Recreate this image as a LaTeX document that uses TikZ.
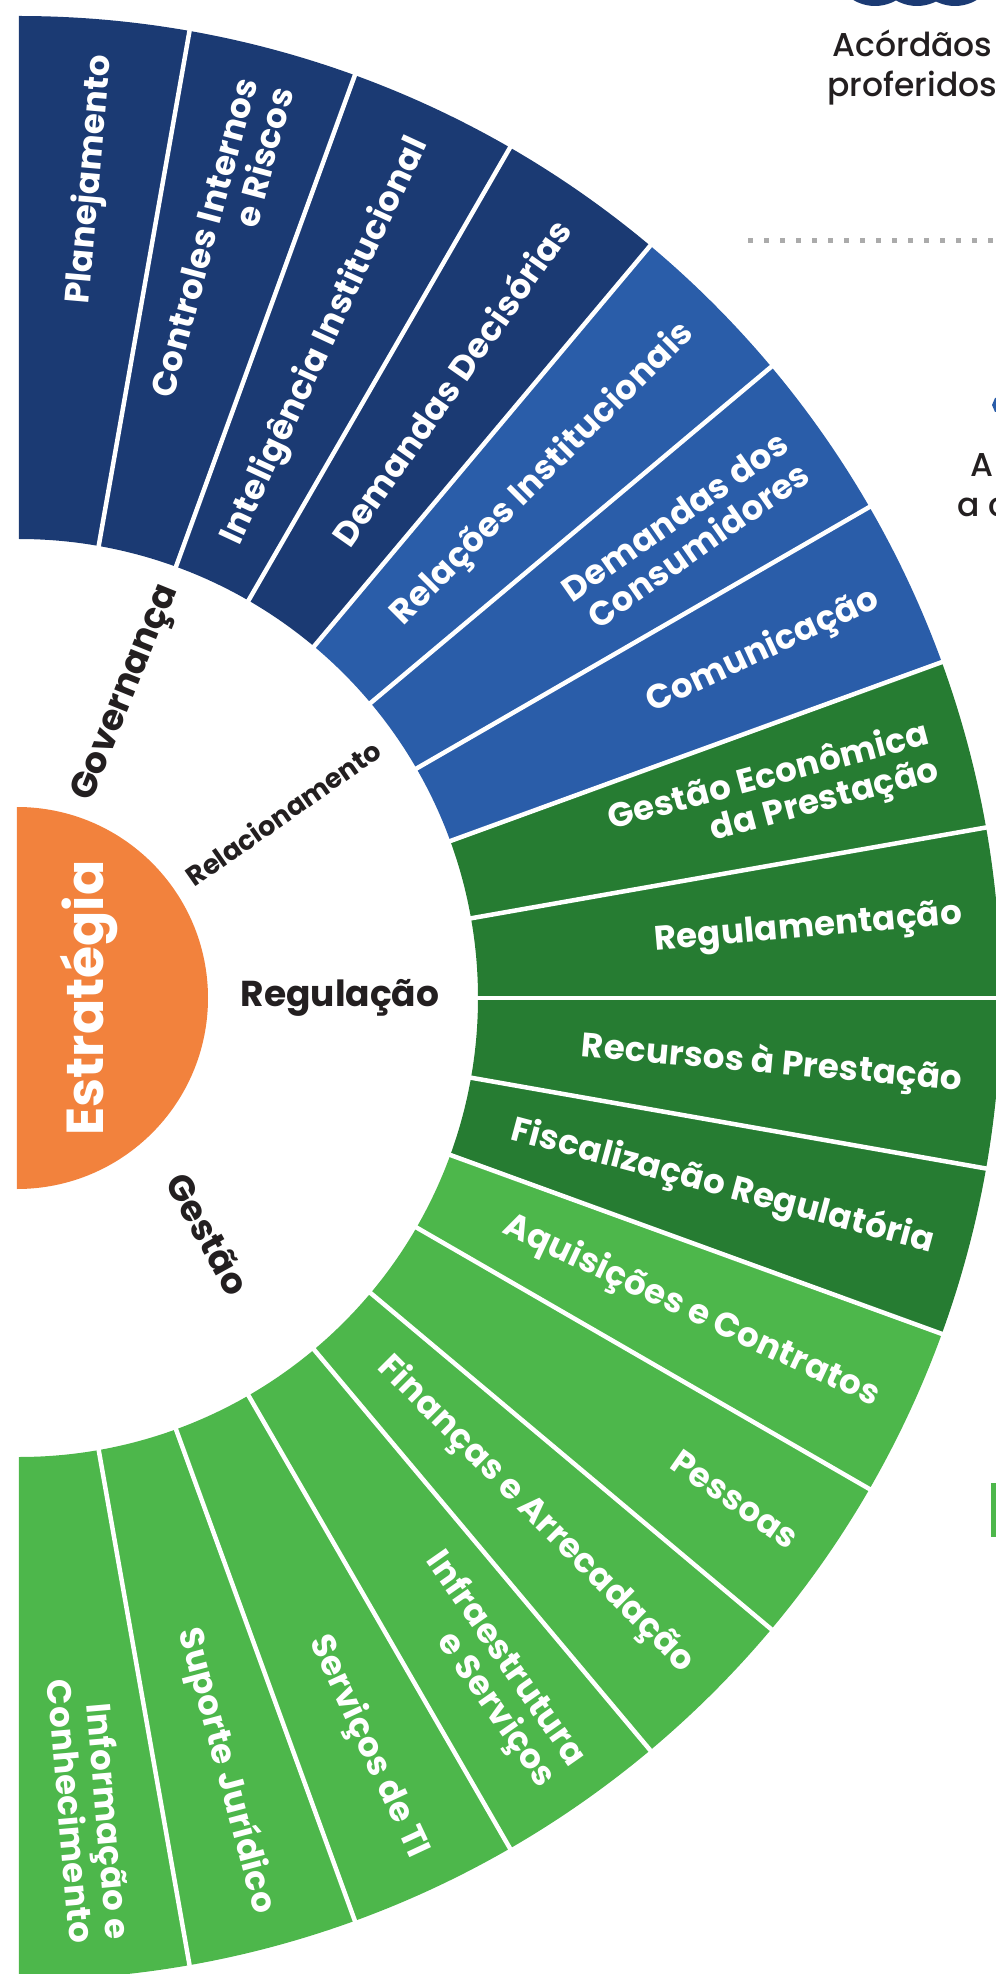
\documentclass[tikz,border=0pt]{standalone}
\usepackage{fontspec}
\setmainfont{Poppins}
\IfFontExistsTF{Poppins Medium}{\newfontfamily\medium{Poppins Medium}}{\newcommand\medium{\mdseries}}
\definecolor{navy}{HTML}{1B3A73}
\definecolor{midblue}{HTML}{2A5DA9}
\definecolor{darkgreen}{HTML}{267C32}
\definecolor{lightgreen}{HTML}{4DB74B}
\definecolor{orangeS}{HTML}{F2823D}
\definecolor{ink}{HTML}{231F20}
\definecolor{dotgray}{HTML}{ABABAB}
\begin{document}
\begin{tikzpicture}[x=1pt,y=1pt,
  slicelabel/.style={text=white, font=\bfseries\fontsize{34}{37}\selectfont\addfontfeatures{LetterSpace=1}, anchor=east, inner sep=0pt, align=right},
  catlabel/.style={text=ink, font=\bfseries\fontsize{36}{40}\selectfont, inner sep=0pt},
  sidetext/.style={text=ink, font=\medium\fontsize{33}{40}\selectfont, inner sep=0pt},
  sepline/.style={white, line width=4.5pt},
]
\useasboundingbox (-19,-976) rectangle (977,998);
\begin{scope}
\clip (-19,-976) rectangle (977,998);
% sectors
\fill[navy] (90:459) -- (90:982) arc[start angle=90,end angle=50,radius=982] -- (50:459) arc[start angle=50,end angle=90,radius=459] -- cycle;
\fill[midblue] (50:459) -- (50:982) arc[start angle=50,end angle=20,radius=982] -- (20:459) arc[start angle=20,end angle=50,radius=459] -- cycle;
\fill[darkgreen] (20:459) -- (20:982) arc[start angle=20,end angle=-20,radius=982] -- (-20:459) arc[start angle=-20,end angle=20,radius=459] -- cycle;
\fill[lightgreen] (-20:459) -- (-20:982) arc[start angle=-20,end angle=-90,radius=982] -- (-90:459) arc[start angle=-90,end angle=-20,radius=459] -- cycle;
\foreach \a in {80,70,...,-80} \draw[sepline] (\a:450) -- (\a:995);
% centre
\fill[orangeS] (-2,191) arc[start angle=90,end angle=-90,radius=191] -- cycle;
\node[text=white, font=\bfseries\fontsize{52}{56}\selectfont, rotate=90, inner sep=0pt] (estr) at (70,0) {Estratégia};
% category labels
\node[catlabel, rotate=68] (gov) at (108,305) {Governança};
\node[catlabel, rotate=35, font=\bfseries\fontsize{27}{30}\selectfont] (rel) at (264,185) {Relacionamento};
\node[catlabel] (reg) at (321,0) {Regulação};
\node[catlabel, rotate=-61] (ges) at (189,-236) {Gestão};
% slice labels
\node[slicelabel, rotate=85] (s1) at (85:947) {Planejamento};
\node[slicelabel, rotate=75] (s2) at (75:947) {Controles Internos\\e Riscos};
\node[slicelabel, rotate=65] (s3) at (65:947) {Inteligência Institucional};
\node[slicelabel, rotate=55] (s4) at (55:947) {Demandas Decisórias};
\node[slicelabel, rotate=45] (s5) at (45:947) {Relações Institucionais};
\node[slicelabel, rotate=35] (s6) at (35:947) {Demandas dos\\Consumidores};
\node[slicelabel, rotate=25] (s7) at (25:947) {Comunicação};
\node[slicelabel, rotate=15] (s8) at (15:947) {Gestão Econômica\\da Prestação};
\node[slicelabel, rotate=5] (s9) at (5:947) {Regulamentação};
\node[slicelabel, rotate=-5] (s10) at (-5:947) {Recursos à Prestação};
\node[slicelabel, rotate=-15] (s11) at (-15:947) {Fiscalização Regulatória};
\node[slicelabel, rotate=-25] (s12) at (-25:947) {Aquisições e Contratos};
\node[slicelabel, rotate=-35] (s13) at (-35:947) {Pessoas};
\node[slicelabel, rotate=-45] (s14) at (-45:947) {Finanças e Arrecadação};
\node[slicelabel, rotate=-55] (s15) at (-55:947) {Infraestrutura\\e Serviços};
\node[slicelabel, rotate=-65] (s16) at (-65:947) {Serviços de TI};
\node[slicelabel, rotate=-75] (s17) at (-75:947) {Suporte Jurídico};
\node[slicelabel, rotate=-85] (s18) at (-85:947) {Informação e\\Conhecimento};
% partial content on the right
\fill[navy] (856,1034) circle[radius=42];
\fill[navy] (898,1034) circle[radius=42];
\fill[navy] (936,1034) circle[radius=42];
\node[sidetext, anchor=base] (t1) at (893.5,941) {Acórdãos};
\node[sidetext, anchor=base] (t2) at (893.5,901) {proferidos};
\draw[dotgray, line width=5pt, dash pattern=on 5pt off 11pt] (729,757) -- (990,757);
\fill[midblue] (973,593) -- (976,600) -- (980,600) -- (980,586) -- (976,586) -- cycle;
\node[sidetext, anchor=base west] (t3) at (951,521) {A};
\node[sidetext, anchor=base west] (t4) at (938,481) {a c};
\fill[lightgreen] (972,-485) rectangle (980,-539);
\end{scope}
\end{tikzpicture}
\end{document}
